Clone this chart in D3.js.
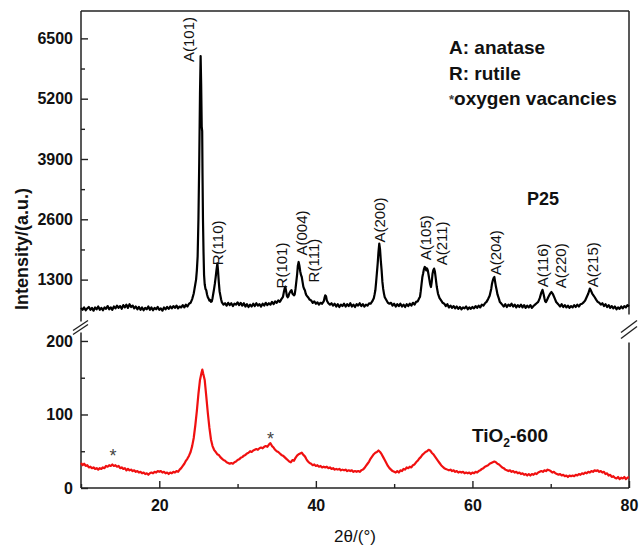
<!DOCTYPE html>
<html>
<head>
<meta charset="utf-8">
<script src="https://cdn.jsdelivr.net/npm/d3@7/dist/d3.min.js"></script>
<style>
  body { margin: 0; background: #fff; }
  text { font-family: Arial, 'Liberation Sans', sans-serif; }
</style>
</head>
<body>
<svg id="mainsvg" width="641" height="546"></svg>
<script>
// P25 pattern, [2theta, intensity]
const p25 = [
  [10.0,690],[10.2,650],[10.4,700],[10.6,640],[10.8,680],[11.0,710],[11.2,650],[11.4,690],[11.6,630],[11.8,700],
  [12.0,660],[12.2,720],[12.4,650],[12.6,690],[12.8,640],[13.0,700],[13.2,670],[13.4,730],[13.6,660],[13.8,700],
  [14.0,650],[14.2,720],[14.4,680],[14.6,740],[14.8,690],[15.0,730],[15.2,670],[15.4,750],[15.6,700],[15.8,760],
  [16.0,690],[16.2,770],[16.4,710],[16.6,740],[16.8,680],[17.0,720],[17.2,660],[17.4,710],[17.6,650],[17.8,700],
  [18.0,640],[18.2,690],[18.4,660],[18.6,720],[18.8,650],[19.0,700],[19.2,640],[19.4,690],[19.6,660],[19.8,710],
  [20.0,650],[20.2,680],[20.4,630],[20.6,700],[20.8,660],[21.0,710],[21.2,670],[21.4,720],[21.6,680],[21.8,730],
  [22.0,690],[22.2,740],[22.4,680],[22.6,720],[22.8,700],[23.0,750],[23.2,700],[23.4,760],[23.6,720],[23.8,780],
  [24.0,800],[24.2,880],[24.4,1000],[24.5,1100],[24.6,1200],[24.7,1300],[24.8,1500],[24.9,1800],[25.0,2600],
  [25.1,3800],[25.2,5300],[25.28,6120],[25.35,5500],[25.42,4600],[25.48,4500],[25.52,3600],[25.58,2600],
  [25.65,1900],[25.72,1400],[25.8,1200],[25.9,1100],[26.0,1070],[26.1,980],[26.2,920],[26.3,890],[26.4,850],
  [26.5,860],[26.6,820],[26.7,830],[26.8,900],[26.9,1000],[27.0,1100],[27.1,1213],[27.2,1350],[27.3,1500],
  [27.42,1650],[27.5,1500],[27.6,1250],[27.7,1050],[27.8,960],[27.9,870],[28.0,810],[28.2,760],
  [28.4,790],[28.6,740],[28.8,800],[29.0,750],[29.2,790],[29.4,730],[29.6,780],[29.8,760],[30.0,810],[30.2,750],
  [30.4,800],[30.6,740],[30.8,790],[31.0,720],[31.2,770],[31.4,710],[31.6,760],[31.8,720],[32.0,780],[32.2,730],
  [32.4,790],[32.6,740],[32.8,770],[33.0,720],[33.2,780],[33.4,740],[33.6,800],[33.8,750],[34.0,790],[34.2,760],
  [34.4,820],[34.6,770],[34.8,830],[35.0,800],[35.2,850],[35.4,820],[35.6,880],[35.8,930],[35.9,1020],[36.0,1100],
  [36.1,1150],[36.2,1050],[36.3,950],[36.4,920],[36.5,940],[36.6,1000],[36.8,1060],[36.9,1070],[37.0,1000],
  [37.2,960],[37.3,980],[37.4,1100],[37.5,1250],[37.6,1400],[37.7,1600],[37.8,1680],[37.9,1600],[38.0,1480],
  [38.1,1400],[38.2,1356],[38.3,1250],[38.4,1150],[38.5,1100],[38.6,1070],[38.7,1000],[38.8,960],[39.0,920],
  [39.2,870],[39.4,850],[39.6,800],[39.8,830],[40.0,780],[40.2,810],[40.4,760],[40.6,800],[40.8,780],[41.0,830],
  [41.1,900],[41.2,960],[41.3,940],[41.4,850],[41.6,790],[41.8,760],
  [42.0,790],[42.2,740],[42.4,780],[42.6,720],[42.8,770],[43.0,710],[43.2,760],[43.4,730],[43.6,780],[43.8,720],
  [44.0,770],[44.2,730],[44.4,790],[44.6,720],[44.8,760],[45.0,710],[45.2,770],[45.4,740],[45.6,790],[45.8,730],
  [46.0,770],[46.2,720],[46.4,760],[46.6,740],[46.8,790],[47.0,780],[47.2,830],[47.4,900],[47.5,980],[47.6,1070],
  [47.7,1250],[47.8,1450],[47.9,1650],[48.0,1900],[48.1,2076],[48.2,1950],[48.3,1700],[48.4,1500],[48.5,1250],
  [48.6,1100],[48.7,998],[48.8,920],[49.0,860],[49.2,800],[49.4,780],
  [49.6,800],[49.8,740],[50.0,780],[50.2,720],[50.4,770],[50.6,730],[50.8,780],[51.0,720],[51.2,760],[51.4,710],
  [51.6,770],[51.8,730],[52.0,780],[52.2,740],[52.4,800],[52.6,760],[52.8,820],[53.0,830],[53.2,900],[53.3,925],
  [53.4,1050],[53.5,1200],[53.6,1350],[53.7,1430],[53.8,1520],[53.9,1572],[54.0,1560],[54.1,1500],[54.2,1540],
  [54.3,1500],[54.4,1400],[54.5,1300],[54.6,1200],[54.7,1140],[54.8,1250],[54.9,1420],[55.0,1500],[55.1,1537],
  [55.2,1480],[55.3,1350],[55.45,1140],[55.6,1000],[55.8,900],[56.0,850],[56.2,800],
  [56.4,780],[56.6,730],[56.8,770],[57.0,700],[57.2,740],[57.4,690],[57.6,730],[57.8,680],[58.0,720],[58.2,670],
  [58.4,710],[58.6,660],[58.8,700],[59.0,680],[59.2,720],[59.4,660],[59.6,700],[59.8,670],[60.0,710],[60.2,680],
  [60.4,730],[60.6,690],[60.8,740],[61.0,700],[61.2,760],[61.4,740],[61.6,790],[61.8,820],[62.0,880],[62.2,950],
  [62.4,1100],[62.5,1213],[62.6,1280],[62.7,1330],[62.8,1356],[62.9,1250],[63.0,1150],[63.1,1070],[63.2,980],
  [63.4,880],[63.5,817],[63.6,800],
  [63.8,760],[64.0,720],[64.2,770],[64.4,710],[64.6,760],[64.8,730],[65.0,780],[65.2,720],[65.4,760],[65.6,700],
  [65.8,750],[66.0,710],[66.2,760],[66.4,700],[66.6,750],[66.8,690],[67.0,740],[67.2,700],[67.4,750],[67.6,690],
  [67.8,730],[68.0,760],[68.2,790],[68.4,820],[68.6,900],[68.7,960],[68.8,1020],[68.95,1080],[69.1,980],
  [69.2,900],[69.3,830],[69.4,817],[69.5,850],[69.7,925],[69.9,990],[70.1,1033],[70.3,980],[70.5,900],
  [70.7,817],[70.9,780],
  [71.0,760],[71.2,720],[71.4,770],[71.6,710],[71.8,750],[72.0,700],[72.2,740],[72.4,690],[72.6,730],[72.8,700],
  [73.0,750],[73.2,710],[73.4,760],[73.6,720],[73.8,770],[74.0,780],[74.2,810],[74.4,850],[74.6,925],[74.8,1000],
  [75.0,1106],[75.1,1080],[75.3,1000],[75.5,950],[75.6,925],[75.8,870],[76.0,820],[76.2,800],
  [76.4,760],[76.6,790],[76.8,730],[77.0,770],[77.2,710],[77.4,750],[77.6,690],[77.8,730],[78.0,680],[78.2,720],
  [78.4,660],[78.6,700],[78.8,670],[79.0,720],[79.2,680],[79.4,730],[79.6,700],[79.8,750],[80.0,720]
];

// TiO2-600 pattern, lower panel
const tio2 = [
  [10.0,34],[10.2,31],[10.4,33],[10.6,30],[10.8,31],[11.0,28],[11.2,29],[11.4,27],[11.6,28],[11.8,26],
  [12.0,27],[12.2,25],[12.4,27],[12.6,26],[12.8,28],[13.0,27],[13.2,30],[13.4,29],[13.6,31],[13.8,30],
  [14.0,32],[14.2,30],[14.4,31],[14.6,29],[14.8,30],[15.0,27],[15.2,28],[15.4,26],[15.6,27],[15.8,24],
  [16.0,26],[16.2,24],[16.4,25],[16.6,23],[16.8,24],[17.0,22],[17.2,23],[17.4,21],[17.6,22],[17.8,20],
  [18.0,21],[18.2,19],[18.4,20],[18.6,18],[18.8,20],[19.0,21],[19.2,20],[19.4,22],[19.6,21],[19.8,23],
  [20.0,22],[20.2,23],[20.4,21],[20.6,22],[20.8,20],[21.0,21],[21.2,19],[21.4,21],[21.6,20],[21.8,22],
  [22.0,21],[22.2,23],[22.4,22],[22.6,25],[22.8,27],[23.0,30],[23.2,33],[23.4,37],[23.6,40],[23.8,44],
  [24.0,49],[24.2,57],[24.4,68],[24.6,85],[24.8,105],[25.0,128],[25.2,147],[25.4,157],[25.5,161],[25.6,156],
  [25.8,147],[26.0,125],[26.2,102],[26.4,82],[26.6,66],[26.8,57],[27.0,52],[27.2,49],[27.4,46],[27.6,45],
  [27.8,42],[28.0,40],[28.2,38],[28.4,37],[28.6,35],[28.8,34],[29.0,33],[29.2,34],[29.4,33],[29.6,35],
  [29.8,36],[30.0,38],[30.2,39],[30.4,41],[30.6,42],[30.8,44],[31.0,45],[31.2,47],[31.4,48],[31.6,50],
  [31.8,49],[32.0,51],[32.2,52],[32.4,53],[32.6,52],[32.8,54],[33.0,55],[33.2,54],[33.4,56],[33.6,57],
  [33.8,56],[34.0,59],[34.2,61],[34.4,57],[34.6,55],[34.8,52],[35.0,50],[35.2,49],[35.4,47],[35.6,45],
  [35.8,44],[36.0,42],[36.2,40],[36.4,38],[36.6,36],[36.8,35],[37.0,38],[37.2,37],[37.4,41],[37.6,44],
  [37.8,46],[38.0,47],[38.2,48],[38.4,45],[38.6,43],[38.8,39],[39.0,36],[39.2,34],[39.4,33],[39.6,31],
  [39.8,32],[40.0,30],[40.2,31],[40.4,29],[40.6,30],[40.8,28],[41.0,29],[41.2,28],[41.4,29],[41.6,27],
  [41.8,28],[42.0,26],[42.2,27],[42.4,25],[42.6,26],[42.8,25],[43.0,26],[43.2,24],[43.4,25],[43.6,24],
  [43.8,25],[44.0,23],[44.2,24],[44.4,23],[44.6,24],[44.8,22],[45.0,23],[45.2,22],[45.4,23],[45.6,22],
  [45.8,24],[46.0,25],[46.2,27],[46.4,30],[46.6,33],[46.8,36],[47.0,40],[47.2,43],[47.4,46],[47.6,48],
  [47.8,49],[48.0,51],[48.2,49],[48.4,46],[48.6,42],[48.8,38],[49.0,34],[49.2,30],[49.4,27],[49.6,25],
  [49.8,23],[50.0,22],[50.2,21],[50.4,23],[50.6,21],[50.8,24],[51.0,23],[51.2,26],[51.4,25],[51.6,28],
  [51.8,27],[52.0,29],[52.2,28],[52.4,31],[52.6,32],[52.8,35],[53.0,37],[53.2,40],[53.4,42],[53.6,45],
  [53.8,47],[54.0,49],[54.2,50],[54.4,52],[54.6,51],[54.8,48],[55.0,46],[55.2,43],[55.4,40],[55.6,37],
  [55.8,34],[56.0,31],[56.2,29],[56.4,27],[56.6,26],[56.8,25],[57.0,24],[57.2,25],[57.4,23],[57.6,24],
  [57.8,22],[58.0,23],[58.2,21],[58.4,22],[58.6,21],[58.8,22],[59.0,20],[59.2,21],[59.4,20],[59.6,21],
  [59.8,19],[60.0,21],[60.2,20],[60.4,22],[60.6,21],[60.8,23],[61.0,24],[61.2,26],[61.4,27],[61.6,29],
  [61.8,30],[62.0,31],[62.2,33],[62.4,34],[62.6,35],[62.8,36],[63.0,35],[63.2,33],[63.4,32],[63.6,30],
  [63.8,28],[64.0,27],[64.2,25],[64.4,24],[64.6,23],[64.8,24],[65.0,22],[65.2,23],[65.4,21],[65.6,22],
  [65.8,20],[66.0,21],[66.2,19],[66.4,20],[66.6,18],[66.8,19],[67.0,17],[67.2,19],[67.4,17],[67.6,19],
  [67.8,18],[68.0,20],[68.2,19],[68.4,21],[68.6,22],[68.8,23],[69.0,22],[69.2,24],[69.4,23],[69.6,25],
  [69.8,24],[70.0,23],[70.2,21],[70.4,22],[70.6,20],[70.8,19],[71.0,18],[71.2,19],[71.4,17],[71.6,18],
  [71.8,16],[72.0,17],[72.2,15],[72.4,17],[72.6,16],[72.8,17],[73.0,16],[73.2,18],[73.4,17],[73.6,19],
  [73.8,18],[74.0,20],[74.2,19],[74.4,21],[74.6,20],[74.8,22],[75.0,21],[75.2,23],[75.4,22],[75.6,24],
  [75.8,23],[76.0,24],[76.2,22],[76.4,23],[76.6,21],[76.8,22],[77.0,19],[77.2,20],[77.4,17],[77.6,18],
  [77.8,15],[78.0,16],[78.2,14],[78.4,13],[78.6,15],[78.8,12],[79.0,14],[79.2,13],[79.4,15],[79.6,12],
  [79.8,14],[80.0,15]
];

// peak labels: name, 2theta of the label, intensity where the label starts
const peakNames = ['A(101)','R(110)','R(101)','A(004)','R(111)','A(200)','A(105)','A(211)','A(204)','A(116)','A(220)','A(215)'];
const peakTheta = [23.7, 27.5, 35.65, 38.2, 39.65, 48.1, 53.96, 56.1, 62.9, 68.9, 71.3, 75.4];
const peakStart = [5990, 1610, 1110, 1820, 1240, 2100, 1716, 1608, 1393, 1134, 1112, 1134];

// oxygen vacancy markers on TiO2-600
const starTheta = [14.1, 34.2];
const starValue = [51, 74];

const xTicks = [20, 40, 60, 80];
const xMinor = [10, 30, 50, 70];
const yTopTicks = [1300, 2600, 3900, 5200, 6500];
const yTopMinor = [1950, 3250, 4550, 5850];
const yBotTicks = [0, 100, 200];
const yBotMinor = [50, 150];

const legendLines = ['A: anatase', 'R: rutile', 'oxygen vacancies'];

const svg = d3.select('#mainsvg');
const plot = { left: 81, right: 629, top: 11, bottom: 488 };
const splitY = 326.5;

const x = d3.scaleLinear().domain([10, 80]).range([plot.left, plot.right]);
const yTop = d3.scaleLinear().domain([300, 7090]).range([326, plot.top]);
const yBot = d3.scaleLinear().domain([0, 219]).range([plot.bottom, 327]);

const axisColor = '#222';

// axes (ticks point inward)
svg.append('g').attr('transform', `translate(0,${plot.bottom})`)
  .call(d3.axisBottom(x).tickValues(xTicks).tickSize(-7).tickPadding(12).tickFormat(d3.format('d')));
svg.append('g').attr('transform', `translate(0,${plot.bottom})`)
  .call(d3.axisBottom(x).tickValues(xMinor).tickSize(-4).tickFormat(''));

svg.append('g').attr('transform', `translate(${plot.left},0)`)
  .call(d3.axisLeft(yTop).tickValues(yTopTicks).tickSize(-7).tickPadding(8).tickFormat(d3.format('d')));
svg.append('g').attr('transform', `translate(${plot.left},0)`)
  .call(d3.axisLeft(yTop).tickValues(yTopMinor).tickSize(-4).tickFormat(''));
svg.append('g').attr('transform', `translate(${plot.left},0)`)
  .call(d3.axisLeft(yBot).tickValues(yBotTicks).tickSize(-7).tickPadding(8).tickFormat(d3.format('d')));
svg.append('g').attr('transform', `translate(${plot.left},0)`)
  .call(d3.axisLeft(yBot).tickValues(yBotMinor).tickSize(-4).tickFormat(''));

svg.selectAll('.domain').remove();
svg.selectAll('.tick line').attr('stroke', axisColor).attr('stroke-width', 1.4);
svg.selectAll('.tick text')
  .attr('font-family', "Arial, 'Liberation Sans', sans-serif")
  .attr('font-size', 16).attr('font-weight', 'bold').attr('fill', '#111');

// frame with broken left / right sides
const frame = [
  [plot.left, plot.top, plot.right, plot.top],
  [plot.left, plot.bottom, plot.right, plot.bottom],
  [plot.left, plot.top, plot.left, splitY - 5],
  [plot.left, splitY + 6, plot.left, plot.bottom],
  [plot.right, plot.top, plot.right, splitY - 12],
  [plot.right, splitY + 16, plot.right, plot.bottom]
];
svg.append('g').selectAll('line').data(frame).join('line')
  .attr('x1', d => d[0]).attr('y1', d => d[1]).attr('x2', d => d[2]).attr('y2', d => d[3])
  .attr('stroke', axisColor).attr('stroke-width', 1.5);

// break marks
const marks = [
  [plot.left - 8, splitY + 4, plot.left + 7, splitY - 6],
  [plot.left - 8, splitY + 8, plot.left + 7, splitY - 2],
  [plot.right - 8, splitY + 6, plot.right + 8, splitY - 6],
  [plot.right - 8, splitY + 12, plot.right + 8, splitY]
];
svg.append('g').selectAll('line').data(marks).join('line')
  .attr('x1', d => d[0]).attr('y1', d => d[1]).attr('x2', d => d[2]).attr('y2', d => d[3])
  .attr('stroke', axisColor).attr('stroke-width', 1.4);

// curves
const lineTop = d3.line().x(d => x(d[0])).y(d => yTop(d[1]));
const lineBot = d3.line().x(d => x(d[0])).y(d => yBot(d[1]));

svg.append('path').datum(p25).attr('d', lineTop)
  .attr('fill', 'none').attr('stroke', '#000').attr('stroke-width', 2.2).attr('stroke-linejoin', 'round');
svg.append('path').datum(tio2).attr('d', lineBot)
  .attr('fill', 'none').attr('stroke', '#f01010').attr('stroke-width', 2.2).attr('stroke-linejoin', 'round');

// peak labels (rotated)
svg.append('g').selectAll('text').data(peakNames).join('text')
  .attr('transform', (d, i) => `translate(${x(peakTheta[i])},${yTop(peakStart[i])}) rotate(-90)`)
  .attr('dy', '0.36em')
  .attr('font-size', 15)
  .attr('fill', '#111')
  .text(d => d);

// asterisks
svg.append('g').selectAll('text').data(starTheta).join('text')
  .attr('x', d => x(d)).attr('y', (d, i) => yBot(starValue[i]))
  .attr('dy', '0.62em')
  .attr('text-anchor', 'middle')
  .attr('font-size', 18).attr('fill', '#444')
  .text('*');

// legend
const leg = svg.append('g').attr('font-size', 19).attr('font-weight', 'bold').attr('fill', '#111');
legendLines.forEach((t, i) => {
  const tx = leg.append('text').attr('x', 449).attr('y', 54 + i * 25.5);
  if (i === 2) {
    tx.append('tspan').attr('font-size', 13).attr('fill', '#444').attr('dy', -1).text('*');
    tx.append('tspan').attr('dy', 1).text(t);
  } else {
    tx.text(t);
  }
});

// sample names
svg.append('text').attr('x', 527).attr('y', 205)
  .attr('font-size', 18).attr('font-weight', 'bold').attr('fill', '#111').text('P25');
const tn = svg.append('text').attr('x', 472).attr('y', 442)
  .attr('font-size', 19).attr('font-weight', 'bold').attr('fill', '#111');
tn.append('tspan').text('TiO');
tn.append('tspan').attr('font-size', 12).attr('dy', 5).text('2');
tn.append('tspan').attr('dy', -5).text('-600');

// axis titles
svg.append('text')
  .attr('transform', 'translate(28,249) rotate(-90)')
  .attr('text-anchor', 'middle')
  .attr('font-size', 18).attr('font-weight', 'bold').attr('fill', '#111')
  .text('Intensity/(a.u.)');
svg.append('text')
  .attr('x', (plot.left + plot.right) / 2).attr('y', 542)
  .attr('text-anchor', 'middle')
  .attr('font-size', 17).attr('fill', '#111')
  .text('2θ/(°)');
</script>
</body>
</html>
